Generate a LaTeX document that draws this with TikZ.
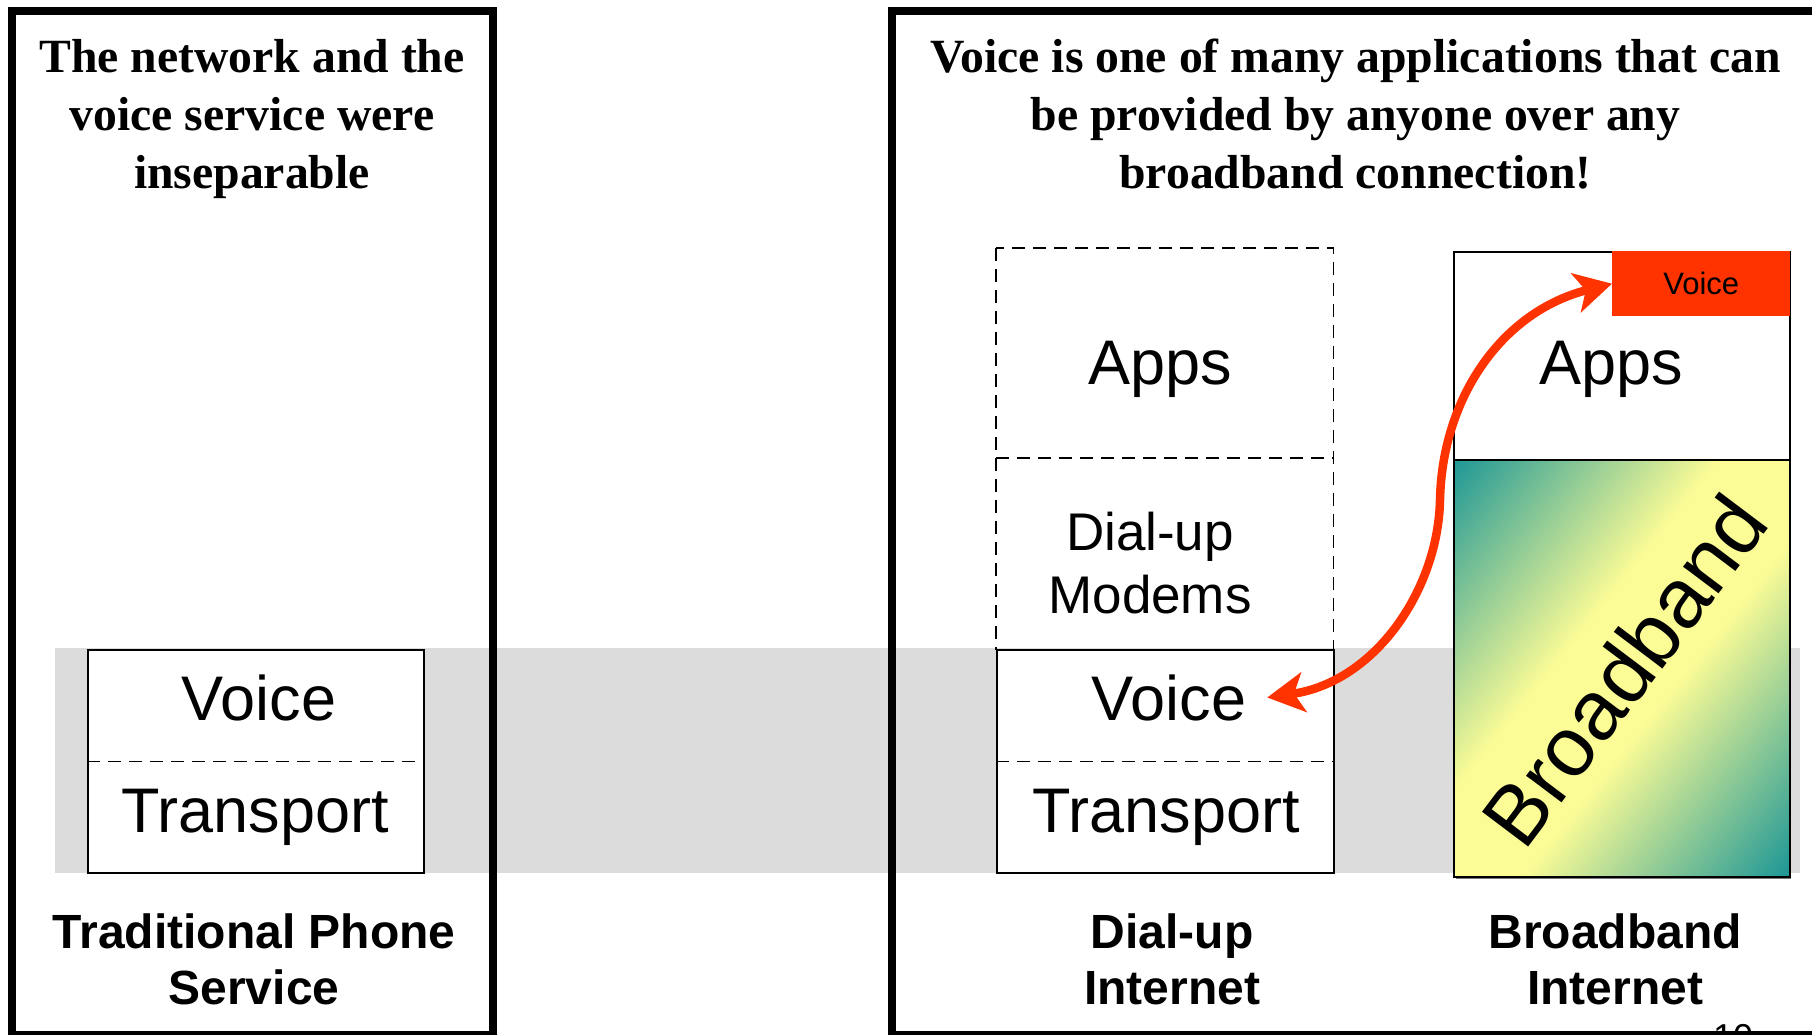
\documentclass[tikz,border=0pt]{standalone}
\usepackage{fontspec}
\setmainfont{Liberation Serif}
\newfontfamily\arialf{Liberation Sans}
\usetikzlibrary{arrows.meta}

\definecolor{bandgray}{RGB}{220,220,220}
\definecolor{voicered}{RGB}{255,51,0}
\definecolor{bbteal}{RGB}{28,150,150}
\definecolor{bbyellow}{RGB}{252,252,150}
\definecolor{shadowgray}{RGB}{120,120,120}

% teal -> yellow -> teal, across the broadband layer
\pgfdeclareverticalshading{bbfill}{100bp}{color(0bp)=(bbteal); color(25bp)=(bbteal);
  color(45bp)=(bbyellow); color(55bp)=(bbyellow); color(75bp)=(bbteal); color(100bp)=(bbteal)}

\tikzset{
  bigframe/.style={draw=black, line width=8pt},
  layerbox/.style={draw=black, line width=2pt, fill=white, inner sep=0pt, anchor=north west},
  dashline/.style={draw=black, line width=1.8pt, dash pattern=on 13pt off 8pt},
  titletxt/.style={font=\fontsize{47.7}{58}\selectfont\bfseries, align=center, inner sep=0pt, anchor=base},
  layertxt/.style={font=\arialf\fontsize{63}{70}\selectfont, inner sep=0pt, anchor=base},
  modemtxt/.style={font=\arialf\fontsize{53}{63}\selectfont, align=center, inner sep=0pt, anchor=base},
  labeltxt/.style={font=\arialf\bfseries\fontsize{48}{56}\selectfont, align=center, inner sep=0pt, anchor=base},
  voicearrow/.style={draw=voicered, line width=8.5pt,
    {Stealth[length=37pt,width=40pt,inset=10pt]}-{Stealth[length=37pt,width=40pt,inset=10pt]}},
}

\begin{document}
\begin{tikzpicture}[x=1pt, y=-1pt]
  \useasboundingbox (0,0) rectangle (1812,1034);
  \clip (0,0) rectangle (1812,1034);

  % shared grey band behind the voice/transport layers
  \fill[bandgray] (55,648) rectangle (1800,873);

  % the two panels
  \draw[bigframe] (12,11) rectangle (492.5,1035);
  \draw[bigframe] (892,11) rectangle (1818,1035);

  % ---- traditional phone service ----
  % (multi-line nodes are placed at the baseline of their last line)
  \node[titletxt] (lefttitle) at (252,188) {The network and the\\voice service were\\inseparable};
  \node[layerbox, minimum width=336pt, minimum height=223pt] (tpstack) at (87,649) {};
  \draw[dashline] (tpstack.west) -- (tpstack.east);
  \node[layertxt] (tpvoice) at (259,720) {Voice};
  \node[layertxt] (tptransport) at (255,832) {Transport};
  \node[labeltxt] (tplabel) at (254,1004) {Traditional Phone\\Service};

  % ---- dial-up internet ----
  \node[titletxt] (righttitle) at (1355.5,188) {Voice is one of many applications that can\\be provided by anyone over any\\broadband connection!};
  \node[inner sep=0pt, anchor=north west, minimum width=337pt, minimum height=401pt] (dupper) at (996,248) {};
  \draw[dashline] (dupper.north west) rectangle (dupper.south east);
  \draw[dashline] (996,458) -- (1333,458);
  \node[layerbox, minimum width=337pt, minimum height=223pt] (dstack) at (996,649) {};
  \draw[dashline] (dstack.west) -- (dstack.east);
  \node[layertxt] (dapps) at (1160,384) {Apps};
  \node[modemtxt] (dmodems) at (1150,613) {Dial-up\\Modems};
  \node[layertxt] (dvoice) at (1169,720) {Voice};
  \node[layertxt] (dtransport) at (1166,832) {Transport};
  \node[labeltxt] (dlabel) at (1172,1004) {Dial-up\\Internet};

  % ---- broadband internet ----
  \fill[shadowgray] (1456,462) rectangle (1791,879);
  \begin{scope}
    \clip (1453,459) rectangle (1789,876);
    \begin{scope}[transform canvas={shift={(1621,667.5)}, rotate=51.3}]
      \shade[shading=bbfill] (-320,-262) rectangle (320,262);
    \end{scope}
  \end{scope}
  \node[draw=black, line width=1.6pt, inner sep=0pt, anchor=north west,
        minimum width=336pt, minimum height=417pt] (bbstack) at (1453,459) {};
  \node[layerbox, minimum width=336pt, minimum height=208pt] (bbapps) at (1453,251) {};
  \node[layertxt] (bbappstxt) at (1611,384) {Apps};
  \node[font=\arialf\fontsize{84}{90}\selectfont, inner sep=0pt, rotate=53] (bbtxt) at (1624,670) {Broadband};
  \node[fill=voicered, inner sep=0pt, anchor=north west, minimum width=178pt, minimum height=65pt,
        text height=22pt, text depth=0pt, font=\arialf\fontsize{31}{36}\selectfont] (bbvoice) at (1612,251) {Voice};
  \node[labeltxt] (bblabel) at (1615,1004) {Broadband\\Internet};

  % voice moves from the dial-up stack to an application over broadband
  \draw[voicearrow] ([xshift=21pt]dvoice.east) .. controls (1375,682) and (1438,590) .. (1440,500)
        .. controls (1442,400) and (1500,312) .. (bbvoice.west);

  % slide number, mostly cut off at the lower edge
  \node[font=\arialf\fontsize{36}{40}\selectfont, inner sep=0pt, anchor=base] (pagenum) at (1733,1049) {10};
\end{tikzpicture}
\end{document}
